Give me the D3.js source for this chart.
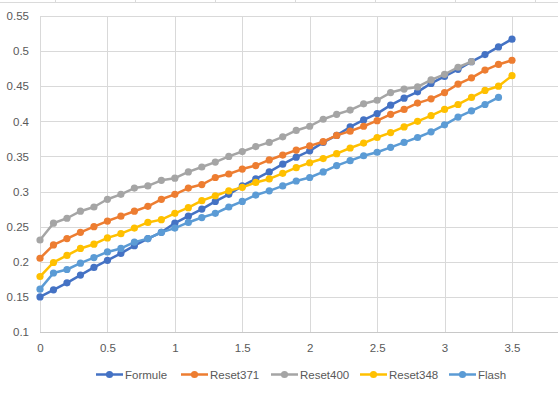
<!DOCTYPE html>
<html>
<head>
<meta charset="utf-8">
<script src="https://cdn.jsdelivr.net/npm/d3@7"></script>
<style>
  body { margin: 0; background: #fff; }
  svg text { font-family: "Liberation Sans", Arial, sans-serif; fill: #595959; }
</style>
</head>
<body>
<div id="chart"></div>
<script>
// x positions (same for all series)
var xs = [0, 0.1, 0.2, 0.3, 0.4, 0.5, 0.6, 0.7, 0.8, 0.9, 1, 1.1, 1.2, 1.3, 1.4, 1.5, 1.6, 1.7,
          1.8, 1.9, 2, 2.1, 2.2, 2.3, 2.4, 2.5, 2.6, 2.7, 2.8, 2.9, 3, 3.1, 3.2, 3.3, 3.4, 3.5];

var formule = [0.150, 0.160, 0.170, 0.181, 0.192, 0.202, 0.212, 0.223, 0.233, 0.242, 0.255, 0.265,
               0.275, 0.286, 0.296, 0.308, 0.318, 0.328, 0.339, 0.349, 0.358, 0.370, 0.380, 0.392,
               0.402, 0.411, 0.423, 0.433, 0.442, 0.454, 0.464, 0.474, 0.485, 0.495, 0.506, 0.517];
var reset371 = [0.205, 0.224, 0.233, 0.242, 0.250, 0.258, 0.265, 0.272, 0.279, 0.289, 0.296, 0.305,
                0.310, 0.320, 0.325, 0.332, 0.337, 0.345, 0.352, 0.359, 0.365, 0.371, 0.380, 0.386,
                0.393, 0.401, 0.410, 0.417, 0.426, 0.432, 0.441, 0.453, 0.462, 0.473, 0.481, 0.487];
var reset400 = [0.231, 0.255, 0.262, 0.272, 0.278, 0.289, 0.296, 0.305, 0.308, 0.316, 0.319, 0.328,
                0.335, 0.342, 0.350, 0.357, 0.364, 0.370, 0.378, 0.387, 0.393, 0.403, 0.410, 0.416,
                0.425, 0.430, 0.441, 0.446, 0.449, 0.459, 0.467, 0.477, 0.485];
var reset348 = [0.179, 0.199, 0.209, 0.219, 0.225, 0.234, 0.240, 0.248, 0.256, 0.260, 0.269, 0.277,
                0.287, 0.294, 0.301, 0.306, 0.313, 0.318, 0.326, 0.334, 0.341, 0.347, 0.354, 0.362,
                0.369, 0.377, 0.384, 0.392, 0.400, 0.408, 0.417, 0.424, 0.434, 0.444, 0.450, 0.465];
var flash = [0.161, 0.184, 0.189, 0.198, 0.206, 0.214, 0.219, 0.228, 0.233, 0.242, 0.248, 0.256,
             0.263, 0.269, 0.278, 0.286, 0.295, 0.301, 0.308, 0.315, 0.320, 0.328, 0.337, 0.344,
             0.351, 0.356, 0.363, 0.370, 0.377, 0.385, 0.395, 0.406, 0.415, 0.424, 0.434];

var seriesNames = ["Formule", "Reset371", "Reset400", "Reset348", "Flash"];
var seriesValues = [formule, reset371, reset400, reset348, flash];
var colors = ["#4472C4", "#ED7D31", "#A5A5A5", "#FFC000", "#5B9BD5"];

var xTicks = [0, 0.5, 1, 1.5, 2, 2.5, 3, 3.5, 4];
var yTicks = [0.1, 0.15, 0.2, 0.25, 0.3, 0.35, 0.4, 0.45, 0.5, 0.55];

var width = 558, height = 394;

var svg = d3.select("#chart").append("svg")
    .attr("width", width)
    .attr("height", height);

var x = d3.scaleLinear().domain([0, 4]).range([40, 579.4]);
var y = d3.scaleLinear().domain([0.1, 0.55]).range([332, 16]);

// faint sheet cell borders at the very top
svg.append("line")
    .attr("x1", 0).attr("x2", width).attr("y1", 2.5).attr("y2", 2.5)
    .attr("stroke", "#dadada");
[55, 135, 215, 295, 375, 455, 535].forEach(function(cx) {
    svg.append("line")
        .attr("x1", cx + 0.5).attr("x2", cx + 0.5).attr("y1", 0).attr("y2", 2.5)
        .attr("stroke", "#dadada");
});

// gridlines
var grid = svg.append("g");
grid.selectAll("line.h").data(yTicks).enter().append("line")
    .attr("class", "h")
    .attr("x1", x(0)).attr("x2", width)
    .attr("y1", function(d) { return Math.round(y(d)) + 0.5; })
    .attr("y2", function(d) { return Math.round(y(d)) + 0.5; })
    .attr("stroke", function(d) { return d === 0.1 ? "#c8c8c8" : "#d9d9d9"; });
grid.selectAll("line.v").data(xTicks).enter().append("line")
    .attr("class", "v")
    .attr("x1", function(d) { return Math.round(x(d)) + 0.5; })
    .attr("x2", function(d) { return Math.round(x(d)) + 0.5; })
    .attr("y1", y(0.55)).attr("y2", y(0.1))
    .attr("stroke", "#d9d9d9");

// axes (labels only, Excel style)
var yAxis = svg.append("g")
    .attr("transform", "translate(29,0)")
    .call(d3.axisLeft(y).tickValues(yTicks).tickSize(0).tickFormat(d3.format("")));
var xAxis = svg.append("g")
    .attr("transform", "translate(0," + 341 + ")")
    .call(d3.axisBottom(x).tickValues(xTicks.slice(0, 8)).tickSize(0).tickFormat(d3.format("")));
[yAxis, xAxis].forEach(function(a) {
    a.select(".domain").remove();
    a.selectAll("text").style("font-size", "11.5px").attr("fill", "#595959");
});
yAxis.selectAll("text").attr("x", 0);

// series
var line = d3.line()
    .x(function(d, i) { return x(xs[i]); })
    .y(function(d) { return y(d); });

seriesValues.forEach(function(vals, s) {
    var g = svg.append("g");
    g.append("path")
        .datum(vals)
        .attr("d", line)
        .attr("fill", "none")
        .attr("stroke", colors[s])
        .attr("stroke-width", 2.5)
        .attr("stroke-linejoin", "round");
    g.selectAll("circle").data(vals).enter().append("circle")
        .attr("cx", function(d, i) { return x(xs[i]); })
        .attr("cy", function(d) { return y(d); })
        .attr("r", 3.6)
        .attr("fill", colors[s]);
});

// legend
var legendX = [96, 181, 271, 360, 449];
var legend = svg.append("g").attr("transform", "translate(0,374.5)");
seriesNames.forEach(function(name, s) {
    var lg = legend.append("g").attr("transform", "translate(" + legendX[s] + ",0)");
    lg.append("line")
        .attr("x1", 0).attr("x2", 27).attr("y1", 0).attr("y2", 0)
        .attr("stroke", colors[s]).attr("stroke-width", 2.5);
    lg.append("circle").attr("cx", 13.5).attr("cy", 0).attr("r", 3.6).attr("fill", colors[s]);
    lg.append("text")
        .attr("x", 29).attr("y", 0).attr("dy", "0.35em")
        .style("font-size", "11.5px")
        .text(name);
});
</script>
</body>
</html>
